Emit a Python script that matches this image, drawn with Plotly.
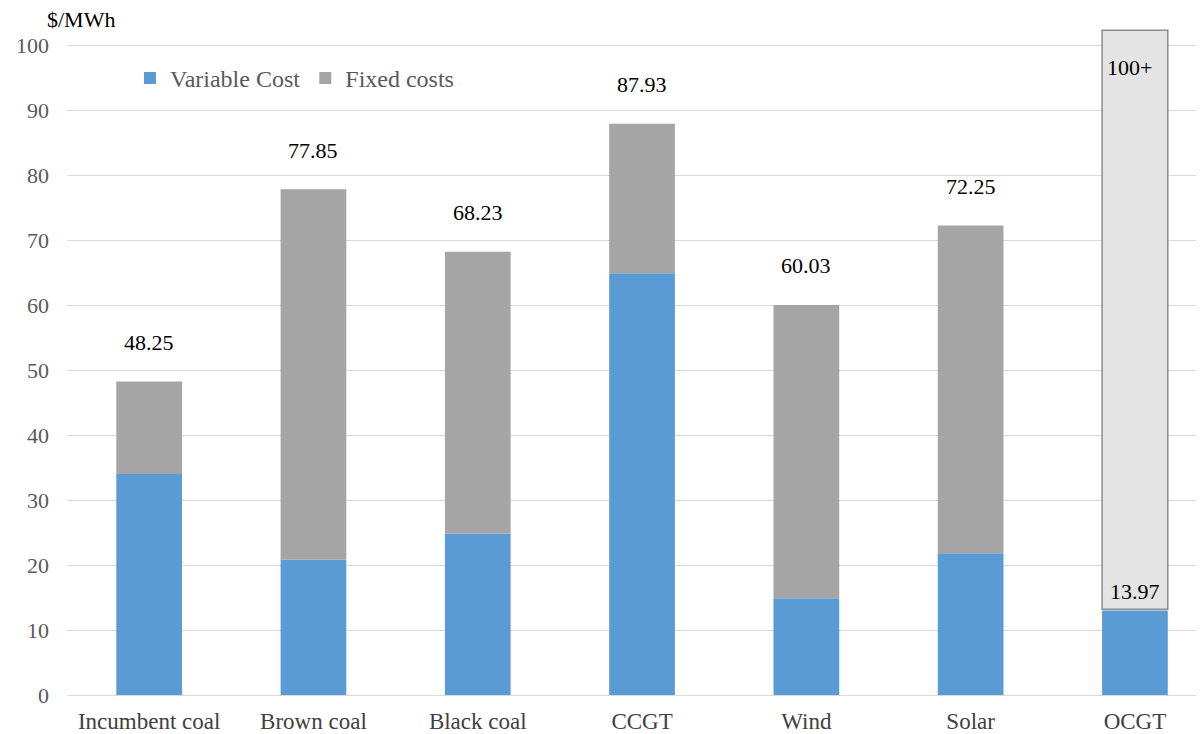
import plotly.graph_objects as go

categories = ["Incumbent coal", "Brown coal", "Black coal", "CCGT", "Wind", "Solar", "OCGT"]
variable_cost = [34.0, 20.8, 24.8, 64.9, 14.9, 21.8, 13.0]
total_cost = [48.25, 77.85, 68.23, 87.93, 60.03, 72.25, None]
total_labels = ["48.25", "77.85", "68.23", "87.93", "60.03", "72.25", ""]
fixed_cost = [round(t - v, 2) if t is not None else 0 for t, v in zip(total_cost, variable_cost)]
ocgt_box_low = 13.2
ocgt_box_high = 102.3
ocgt_label_top = "100+"
ocgt_label_var = "13.97"
yticks = [0, 10, 20, 30, 40, 50, 60, 70, 80, 90, 100]

FONT = "Liberation Serif, Times New Roman, Times, DejaVu Serif, serif"
x = list(range(len(categories)))

fig = go.Figure()
fig.add_trace(go.Bar(x=x, y=variable_cost, name="Variable Cost",
                     marker=dict(color="#5b9bd5", line_width=0), width=0.4))
fig.add_trace(go.Bar(x=x[:6], y=fixed_cost[:6], base=variable_cost[:6], name="Fixed costs",
                     marker=dict(color="#a5a5a5", line_width=0), width=0.4))
fig.add_trace(go.Bar(x=[6], y=[ocgt_box_high - ocgt_box_low], base=[ocgt_box_low],
                     showlegend=False, width=0.4,
                     marker=dict(color="#e4e4e4", line=dict(color="#8c8c8c", width=1.5))))

annotations = []
for xi, t, lab in zip(x, total_cost, total_labels):
    if t is None:
        continue
    annotations.append(dict(x=xi, y=t, xref="x", yref="y", text=lab, showarrow=False,
                            yshift=39, font=dict(family=FONT, size=22, color="#000000")))
annotations.append(dict(x=6, y=96.5, xref="x", yref="y", text=ocgt_label_top, showarrow=False,
                        xshift=-5, font=dict(family=FONT, size=22, color="#000000")))
annotations.append(dict(x=6, y=16.0, xref="x", yref="y", text=ocgt_label_var, showarrow=False,
                        font=dict(family=FONT, size=22, color="#000000")))
annotations.append(dict(x=(37 - 59) / 1145, y=(687 - 11) / 666.25, xref="paper", yref="paper",
                        text="$/MWh", showarrow=False, xanchor="left", yanchor="middle",
                        font=dict(family=FONT, size=22, color="#000000")))

fig.update_layout(
    width=1204, height=734,
    margin=dict(l=59, r=0, t=20.75, b=47),
    barmode="overlay",
    plot_bgcolor="white", paper_bgcolor="white",
    font=dict(family=FONT, color="#595959", size=22),
    showlegend=True,
    legend=dict(orientation="h", x=0.055, y=0.926, xanchor="left", yanchor="middle",
                font=dict(family=FONT, size=24, color="#595959"), bgcolor="rgba(0,0,0,0)",
                itemwidth=30, traceorder="normal"),
    annotations=annotations,
)
fig.update_xaxes(tickmode="array", tickvals=x, ticktext=categories, range=[-0.5, 6.469],
                 showgrid=False, showline=True, linecolor="#d9d9d9", linewidth=1,
                 ticks="", ticklabelstandoff=5,
                 tickfont=dict(family=FONT, size=23, color="#404040"))
fig.update_yaxes(range=[0, 102.5], tickmode="array", tickvals=yticks,
                 showgrid=True, gridcolor="#d9d9d9", gridwidth=1, zeroline=False,
                 ticks="", ticklabelstandoff=17,
                 tickfont=dict(family=FONT, size=22, color="#595959"))

fig.write_html("out.html")
